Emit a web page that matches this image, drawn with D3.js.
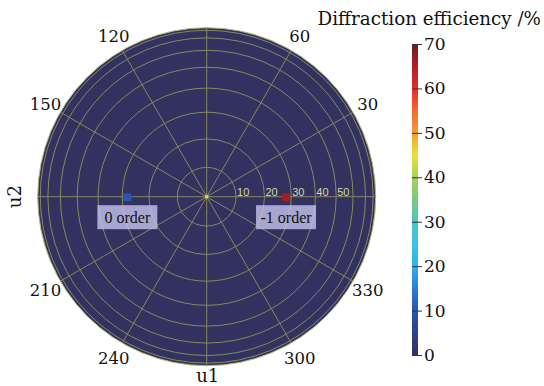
<!DOCTYPE html>
<html>
<head>
<meta charset="utf-8">
<script src="https://cdn.jsdelivr.net/npm/d3@7"></script>
<style>
  body { margin: 0; background: #fff; }
  svg { display: block; }
</style>
</head>
<body>
<div id="chart"></div>
<script>
// angle labels around the disk (0/90/180/270 replaced by axis names)
var angleTicks = [30, 60, 120, 150, 210, 240, 300, 330];
var spokes = [0, 30, 60, 90, 120, 150, 180, 210, 240, 270, 300, 330];
// polar angle rings (degrees), radius goes as sin(theta)
var rings = [10, 20, 30, 40, 50, 60, 70, 80, 90];
var ringLabels = [10, 20, 30, 40, 50];

// diffraction orders
var orderNames = ["0 order", "-1 order"];
var orderAzimuth = [180, 0];
var orderPolar = [28, 28];
var orderEfficiency = [10, 66];

// colour bar
var colorDomain = [0, 10, 15, 20, 25, 30, 35, 40, 45, 50, 55, 60, 65, 70];
var colorRange = ["#32315f", "#2a55b0", "#2a80d4", "#2ab4ea", "#3cc2e2", "#4fc4c0", "#7cc97e", "#a8d256", "#e6e43c", "#f59c33", "#f26a2c", "#e8282a", "#b01f24", "#6e1a20"];
var colorbarTicks = [0, 10, 20, 30, 40, 50, 60, 70];

var width = 544, height = 386;
var cx = 206.7, cy = 196.7, R = 169;
var serif = "DejaVu Serif, serif";

var svg = d3.select("#chart")
  .append("svg")
  .attr("width", width)
  .attr("height", height);

var r = d3.scaleLinear().domain([0, 1]).range([0, R]);
function rad(deg) { return deg * Math.PI / 180; }
function polarR(theta) { return r(Math.sin(rad(theta))); }

var color = d3.scaleLinear().domain(colorDomain).range(colorRange);

var g = svg.append("g")
  .attr("transform", "translate(" + cx + "," + cy + ")");

// background disk (efficiency 0 everywhere)
g.append("circle")
  .attr("r", R)
  .attr("fill", color(0))
  .attr("stroke", "#b8b878")
  .attr("stroke-width", 1);

// rings
g.selectAll(".ring")
  .data(rings.slice(0, -1))
  .enter().append("circle")
  .attr("class", "ring")
  .attr("r", function (d) { return polarR(d); })
  .attr("fill", "none")
  .attr("stroke", "#88885f")
  .attr("stroke-width", 1);

// spokes
g.selectAll(".spoke")
  .data(spokes)
  .enter().append("line")
  .attr("x1", 0).attr("y1", 0)
  .attr("x2", function (d) { return R * Math.cos(rad(d)); })
  .attr("y2", function (d) { return -R * Math.sin(rad(d)); })
  .attr("stroke", "#88885f")
  .attr("stroke-width", 1);

// centre dot
g.append("circle")
  .attr("r", 1.8)
  .attr("fill", "#d8d860");

// order markers
var markerSize = 8;
g.selectAll(".marker")
  .data(orderNames)
  .enter().append("rect")
  .attr("x", function (d, i) { return polarR(orderPolar[i]) * Math.cos(rad(orderAzimuth[i])) - markerSize / 2; })
  .attr("y", function (d, i) { return -polarR(orderPolar[i]) * Math.sin(rad(orderAzimuth[i])) - markerSize / 2 + 0.5; })
  .attr("width", markerSize)
  .attr("height", markerSize)
  .attr("fill", function (d, i) { return color(orderEfficiency[i]); });

// ring labels along 0 degrees
g.selectAll(".ringLabel")
  .data(ringLabels)
  .enter().append("text")
  .attr("x", function (d) { return polarR(d) + 1; })
  .attr("y", -0.5)
  .attr("font-family", "Liberation Sans, sans-serif")
  .attr("font-size", "11px")
  .attr("fill", "#d8d8a8")
  .text(function (d) { return d; });

// order label boxes
var boxes = g.selectAll(".orderBox")
  .data(orderNames)
  .enter().append("g")
  .attr("transform", function (d, i) {
    var x = polarR(orderPolar[i]) * Math.cos(rad(orderAzimuth[i]));
    return "translate(" + x + "," + 8.5 + ")";
  });

boxes.append("rect")
  .attr("x", -30)
  .attr("y", 0)
  .attr("width", 60)
  .attr("height", 24)
  .attr("fill", "#c4c4ee")
  .attr("opacity", 0.8);

boxes.append("text")
  .attr("x", 0)
  .attr("y", 17.5)
  .attr("text-anchor", "middle")
  .attr("font-family", "Liberation Serif, serif")
  .attr("font-size", "16px")
  .attr("fill", "#111")
  .text(function (d) { return d; });

// angle labels
var labelR = 186;
g.selectAll(".angleLabel")
  .data(angleTicks)
  .enter().append("text")
  .attr("x", function (d) { return labelR * Math.cos(rad(d)); })
  .attr("y", function (d) { return -labelR * Math.sin(rad(d)); })
  .attr("dy", "0.36em")
  .attr("text-anchor", "middle")
  .attr("font-family", serif)
  .attr("font-size", "16.5px")
  .attr("fill", "#111")
  .text(function (d) { return d; });

// axis names
svg.append("text")
  .attr("x", cx + 1)
  .attr("y", 382)
  .attr("text-anchor", "middle")
  .attr("font-family", serif)
  .attr("font-size", "18px")
  .attr("fill", "#111")
  .text("u1");

svg.append("text")
  .attr("transform", "translate(21," + cy + ")rotate(-90)")
  .attr("text-anchor", "middle")
  .attr("font-family", serif)
  .attr("font-size", "18px")
  .attr("fill", "#111")
  .text("u2");

// colour bar
var cb = { x: 412, w: 6, top: 44, bottom: 355 };
var y = d3.scaleLinear().domain([0, 70]).range([cb.bottom, cb.top]);

var grad = svg.append("defs").append("linearGradient")
  .attr("id", "cbGrad")
  .attr("x1", 0).attr("y1", 1).attr("x2", 0).attr("y2", 0);
grad.selectAll("stop")
  .data(colorDomain)
  .enter().append("stop")
  .attr("offset", function (d) { return d / 70; })
  .attr("stop-color", function (d) { return color(d); });

svg.append("rect")
  .attr("x", cb.x)
  .attr("y", cb.top)
  .attr("width", cb.w)
  .attr("height", cb.bottom - cb.top)
  .attr("fill", "url(#cbGrad)");

var cbAxis = svg.append("g")
  .attr("transform", "translate(" + (cb.x + cb.w) + ",0)")
  .call(d3.axisRight(y).tickValues(colorbarTicks).tickSize(4).tickPadding(2));
cbAxis.select(".domain").remove();
cbAxis.selectAll("line").attr("stroke", "#333").attr("x1", -cb.w);
cbAxis.selectAll("text")
  .attr("font-family", serif)
  .attr("font-size", "17px")
  .attr("fill", "#111");

svg.append("text")
  .attr("x", 541)
  .attr("y", 25)
  .attr("text-anchor", "end")
  .attr("font-family", serif)
  .attr("font-size", "18.3px")
  .attr("fill", "#111")
  .text("Diffraction efficiency /%");
</script>
</body>
</html>
